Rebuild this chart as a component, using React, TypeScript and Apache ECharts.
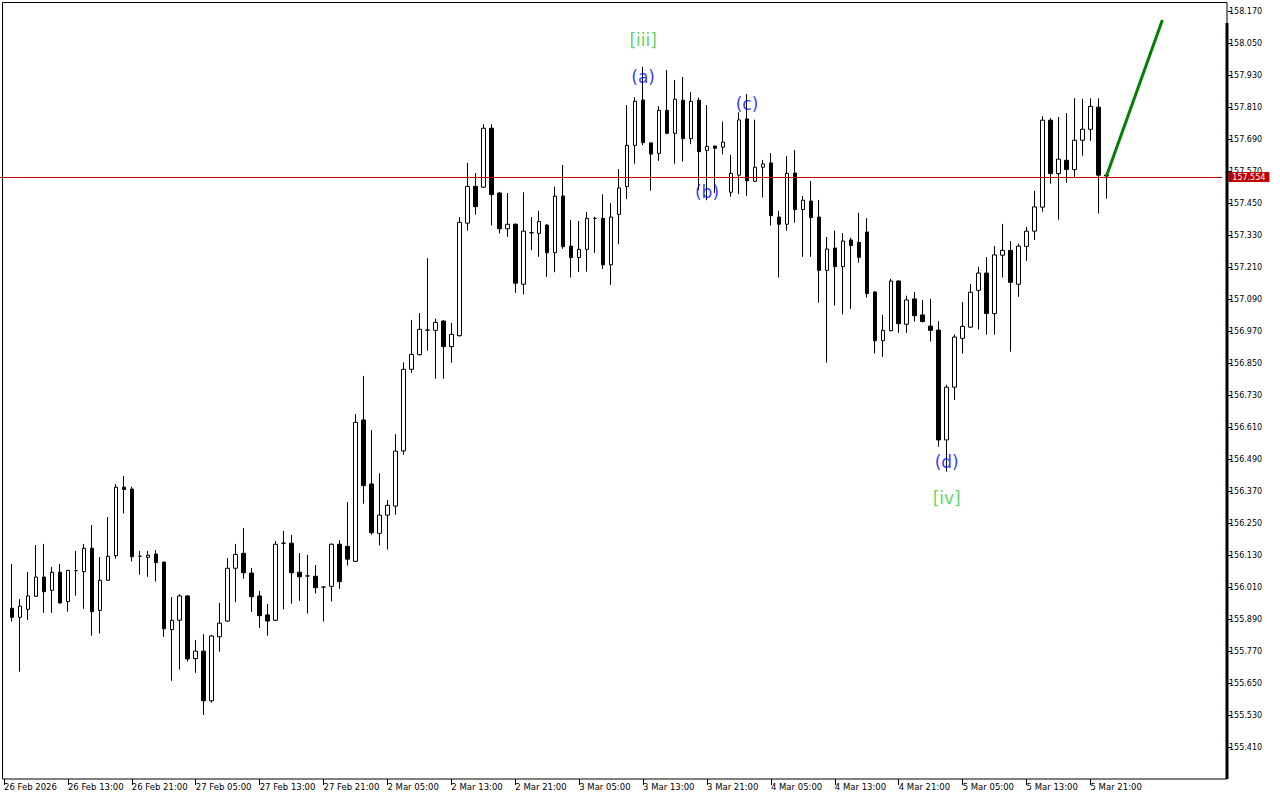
import React, { useEffect, useRef } from "react";
import * as echarts from "echarts";

// Hourly bars, first bar = 26 Feb 2026 06:00 ; each entry [open, close, low, high]
const ohlc: number[][] = [
  [155.933, 155.899, 155.883, 156.099],
  [155.899, 155.941, 155.695, 155.967],
  [155.929, 155.979, 155.889, 156.069],
  [155.978, 156.050, 155.975, 156.170],
  [156.050, 155.995, 155.916, 156.174],
  [156.000, 156.068, 155.916, 156.088],
  [156.068, 155.953, 155.950, 156.099],
  [155.958, 156.075, 155.920, 156.076],
  [156.074, 156.074, 155.980, 156.148],
  [156.070, 156.158, 155.931, 156.174],
  [156.158, 155.920, 155.830, 156.245],
  [155.925, 156.038, 155.838, 156.125],
  [156.038, 156.128, 156.035, 156.275],
  [156.130, 156.387, 156.119, 156.398],
  [156.387, 156.378, 156.288, 156.429],
  [156.380, 156.126, 156.108, 156.389],
  [156.128, 156.128, 156.059, 156.148],
  [156.124, 156.132, 156.051, 156.148],
  [156.136, 156.104, 156.033, 156.151],
  [156.106, 155.856, 155.826, 156.108],
  [155.853, 155.888, 155.661, 155.975],
  [155.888, 155.979, 155.703, 155.986],
  [155.979, 155.743, 155.733, 155.982],
  [155.744, 155.772, 155.691, 155.814],
  [155.772, 155.586, 155.533, 155.836],
  [155.586, 155.829, 155.579, 155.833],
  [155.826, 155.877, 155.770, 155.953],
  [155.885, 156.083, 155.882, 156.121],
  [156.083, 156.135, 155.956, 156.174],
  [156.139, 156.066, 156.044, 156.234],
  [156.065, 155.976, 155.919, 156.084],
  [155.979, 155.905, 155.859, 155.998],
  [155.908, 155.885, 155.830, 155.949],
  [155.888, 156.173, 155.885, 156.185],
  [156.177, 156.177, 155.929, 156.223],
  [156.177, 156.066, 155.950, 156.208],
  [156.068, 156.051, 155.961, 156.140],
  [156.054, 156.054, 155.913, 156.133],
  [156.053, 156.010, 155.988, 156.095],
  [156.012, 156.012, 155.883, 156.016],
  [156.015, 156.173, 155.958, 156.176],
  [156.173, 156.033, 156.006, 156.188],
  [156.165, 156.117, 156.093, 156.331],
  [156.109, 156.630, 156.106, 156.661],
  [156.639, 156.393, 156.325, 156.804],
  [156.399, 156.216, 156.209, 156.601],
  [156.214, 156.282, 156.168, 156.439],
  [156.282, 156.319, 156.153, 156.339],
  [156.316, 156.522, 156.284, 156.586],
  [156.523, 156.829, 156.508, 156.855],
  [156.829, 156.885, 156.816, 157.014],
  [156.884, 156.979, 156.881, 157.040],
  [156.976, 156.976, 156.899, 157.246],
  [156.975, 157.005, 156.794, 157.019],
  [157.010, 156.914, 156.794, 157.013],
  [156.914, 156.960, 156.854, 157.003],
  [156.955, 157.380, 156.952, 157.400],
  [157.377, 157.515, 157.349, 157.603],
  [157.515, 157.439, 157.409, 157.565],
  [157.512, 157.733, 157.509, 157.748],
  [157.733, 157.484, 157.368, 157.748],
  [157.490, 157.356, 157.338, 157.494],
  [157.356, 157.373, 157.326, 157.490],
  [157.373, 157.152, 157.116, 157.376],
  [157.148, 157.347, 157.110, 157.493],
  [157.341, 157.341, 157.276, 157.400],
  [157.339, 157.383, 157.251, 157.423],
  [157.370, 157.266, 157.176, 157.373],
  [157.266, 157.478, 157.193, 157.514],
  [157.479, 157.289, 157.281, 157.595],
  [157.291, 157.248, 157.173, 157.389],
  [157.248, 157.279, 157.194, 157.385],
  [157.279, 157.395, 157.195, 157.419],
  [157.395, 157.395, 157.266, 157.401],
  [157.395, 157.221, 157.205, 157.485],
  [157.221, 157.400, 157.146, 157.452],
  [157.410, 157.509, 157.298, 157.580],
  [157.514, 157.669, 157.467, 157.820],
  [157.669, 157.834, 157.600, 157.849],
  [157.839, 157.679, 157.670, 157.963],
  [157.678, 157.636, 157.499, 157.680],
  [157.639, 157.800, 157.611, 157.816],
  [157.800, 157.714, 157.711, 157.951],
  [157.714, 157.842, 157.600, 157.914],
  [157.838, 157.694, 157.608, 157.925],
  [157.694, 157.834, 157.673, 157.868],
  [157.838, 157.645, 157.501, 157.848],
  [157.650, 157.665, 157.463, 157.820],
  [157.666, 157.658, 157.490, 157.668],
  [157.662, 157.681, 157.635, 157.758],
  [157.493, 157.564, 157.476, 157.633],
  [157.557, 157.764, 157.486, 157.793],
  [157.768, 157.536, 157.479, 157.861],
  [157.534, 157.587, 157.531, 157.765],
  [157.587, 157.599, 157.473, 157.614],
  [157.603, 157.405, 157.368, 157.640],
  [157.400, 157.373, 157.173, 157.423],
  [157.373, 157.564, 157.349, 157.628],
  [157.565, 157.428, 157.379, 157.651],
  [157.428, 157.463, 157.251, 157.479],
  [157.460, 157.398, 157.251, 157.535],
  [157.400, 157.200, 157.079, 157.464],
  [157.200, 157.280, 156.854, 157.325],
  [157.284, 157.214, 157.068, 157.349],
  [157.214, 157.310, 157.035, 157.340],
  [157.314, 157.293, 157.056, 157.323],
  [157.305, 157.249, 157.229, 157.416],
  [157.344, 157.113, 157.098, 157.396],
  [157.119, 156.936, 156.889, 157.122],
  [156.936, 156.975, 156.876, 157.033],
  [156.974, 157.160, 156.971, 157.168],
  [157.160, 157.000, 156.966, 157.163],
  [156.998, 157.089, 156.966, 157.105],
  [157.093, 157.030, 157.008, 157.119],
  [157.033, 157.008, 157.005, 157.089],
  [156.991, 156.975, 156.933, 157.093],
  [156.976, 156.564, 156.539, 157.009],
  [156.564, 156.762, 156.445, 156.771],
  [156.762, 156.950, 156.714, 156.960],
  [156.945, 156.990, 156.888, 157.081],
  [156.987, 157.118, 156.984, 157.149],
  [157.125, 157.190, 156.978, 157.213],
  [157.190, 157.038, 156.959, 157.250],
  [157.038, 157.258, 156.959, 157.291],
  [157.257, 157.275, 157.173, 157.374],
  [157.275, 157.155, 156.895, 157.310],
  [157.148, 157.291, 157.101, 157.300],
  [157.290, 157.347, 157.236, 157.363],
  [157.347, 157.438, 157.314, 157.498],
  [157.437, 157.763, 157.420, 157.778],
  [157.763, 157.563, 157.525, 157.771],
  [157.563, 157.617, 157.390, 157.775],
  [157.613, 157.578, 157.529, 157.790],
  [157.578, 157.688, 157.551, 157.846],
  [157.688, 157.729, 157.630, 157.843],
  [157.729, 157.815, 157.686, 157.845],
  [157.812, 157.557, 157.413, 157.845],
  [157.557, 157.554, 157.469, 157.557],
];

// Time labels, one every 8 hourly slots (slot 0 = 26 Feb 05:00)
const timeLabels: string[] = [
  "26 Feb 2026", "26 Feb 13:00", "26 Feb 21:00", "27 Feb 05:00", "27 Feb 13:00",
  "27 Feb 21:00", "2 Mar 05:00", "2 Mar 13:00", "2 Mar 21:00", "3 Mar 05:00",
  "3 Mar 13:00", "3 Mar 21:00", "4 Mar 05:00", "4 Mar 13:00", "4 Mar 21:00",
  "5 Mar 05:00", "5 Mar 13:00", "5 Mar 21:00",
];

const currentPrice = 157.554;

// Price scale
const priceMin = 155.41;
const priceMax = 158.17;
const priceStep = 0.12;

// Elliott wave annotations: [candle index, price, text]
const waveMinor: [number, number, string][] = [
  [79, 157.925, "(a)"],
  [87, 157.493, "(b)"],
  [92, 157.825, "(c)"],
  [117, 156.480, "(d)"],
];
const waveMajor: [number, number, string][] = [
  [79, 158.064, "[iii]"],
  [117, 156.346, "[iv]"],
];

// Forecast line: [candle index, price]
const forecast: [number, number][] = [
  [137, 157.554],
  [144, 158.139],
];

const SLOTS = 153;
const FONT = '"DejaVu Sans", Verdana, sans-serif';

export default function App() {
  const ref = useRef<HTMLDivElement>(null);

  useEffect(() => {
    if (!ref.current) return;
    const chart = echarts.init(ref.current, undefined, { renderer: "svg" });
    const categories = Array.from({ length: SLOTS }, (_, s) =>
      s % 8 === 0 && s / 8 < timeLabels.length ? timeLabels[s / 8] : "s" + s
    );
    const showSlot = (i: number) => i % 8 === 0 && i / 8 < timeLabels.length;

    const waveSeries = (items: [number, number, string][], color: string) => ({
      type: "scatter",
      symbolSize: 1,
      itemStyle: { color: "rgba(0,0,0,0)" },
      silent: true,
      z: 10,
      data: items.map(([i, p, t]) => ({ value: [i + 1, p], name: t })),
      label: {
        show: true,
        position: "inside",
        formatter: (p: any) => p.name,
        color,
        fontSize: 17,
        fontFamily: FONT,
      },
    });

    chart.setOption({
      animation: false,
      backgroundColor: "#ffffff",
      grid: { left: -1.7, top: 11.7, width: SLOTS * 8, height: 736, containLabel: false },
      xAxis: {
        type: "category",
        data: categories,
        boundaryGap: true,
        offset: 31.3,
        axisLine: { show: false },
        axisTick: {
          show: true,
          alignWithLabel: true,
          interval: (i: number) => showSlot(i),
          length: 6,
          lineStyle: { color: "#000", width: 1 },
        },
        axisLabel: {
          show: true,
          interval: (i: number) => showSlot(i),
          align: "left",
          margin: 3,
          color: "#000",
          fontSize: 8.5,
          fontFamily: FONT,
        },
        splitLine: { show: false },
      },
      yAxis: {
        type: "value",
        position: "right",
        offset: 5.7,
        min: priceMin,
        max: priceMax,
        interval: priceStep,
        scale: true,
        axisLine: { show: false },
        axisTick: { show: true, length: 4, lineStyle: { color: "#000" } },
        axisLabel: {
          show: true,
          margin: 1,
          color: "#000",
          fontSize: 8,
          fontFamily: FONT,
          formatter: (v: number) => v.toFixed(3),
        },
        splitLine: { show: false },
      },
      series: [
        {
          type: "candlestick",
          data: ohlc.map((d, i) => [i + 1, d[0], d[1], d[2], d[3]]),
          encode: { x: 0, y: [1, 2, 3, 4] },
          barWidth: 4,
          silent: true,
          itemStyle: {
            color: "#ffffff",
            color0: "#000000",
            borderColor: "#000000",
            borderColor0: "#000000",
            borderColorDoji: "#000000",
            borderWidth: 1,
          },
          markLine: {
            silent: true,
            symbol: ["none", "none"],
            animation: false,
            lineStyle: { color: "#c00000", width: 1, type: "solid" },
            label: {
              show: true,
              position: "end",
              distance: 6,
              formatter: currentPrice.toFixed(3),
              backgroundColor: "#c00000",
              color: "#ffffff",
              fontSize: 8,
              fontFamily: FONT,
              padding: [1, 4, 1, 4],
            },
            emphasis: { disabled: true },
            data: [{ yAxis: currentPrice }],
          },
        },
        {
          type: "line",
          data: forecast.map(([i, p]) => [i + 1, p]),
          symbol: "none",
          silent: true,
          z: 5,
          lineStyle: { color: "#008000", width: 3 },
        },
        waveSeries(waveMinor, "#0000ff"),
        waveSeries(waveMajor, "#33cc33"),
      ],
      graphic: [
        {
          type: "rect",
          silent: true,
          z: 100,
          shape: { x: 2.5, y: 2.5, width: 1224.5, height: 776.5 },
          style: { fill: "none", stroke: "#000", lineWidth: 1 },
        },
        {
          type: "line",
          silent: true,
          z: 100,
          shape: { x1: 1227, y1: 23, x2: 1227, y2: 779 },
          style: { stroke: "#000", lineWidth: 3 },
        },
      ],
    });
    return () => chart.dispose();
  }, []);

  return (
    <div
      ref={ref}
      style={{ position: "fixed", left: 0, top: 0, width: 1280, height: 800, background: "#fff" }}
    />
  );
}
